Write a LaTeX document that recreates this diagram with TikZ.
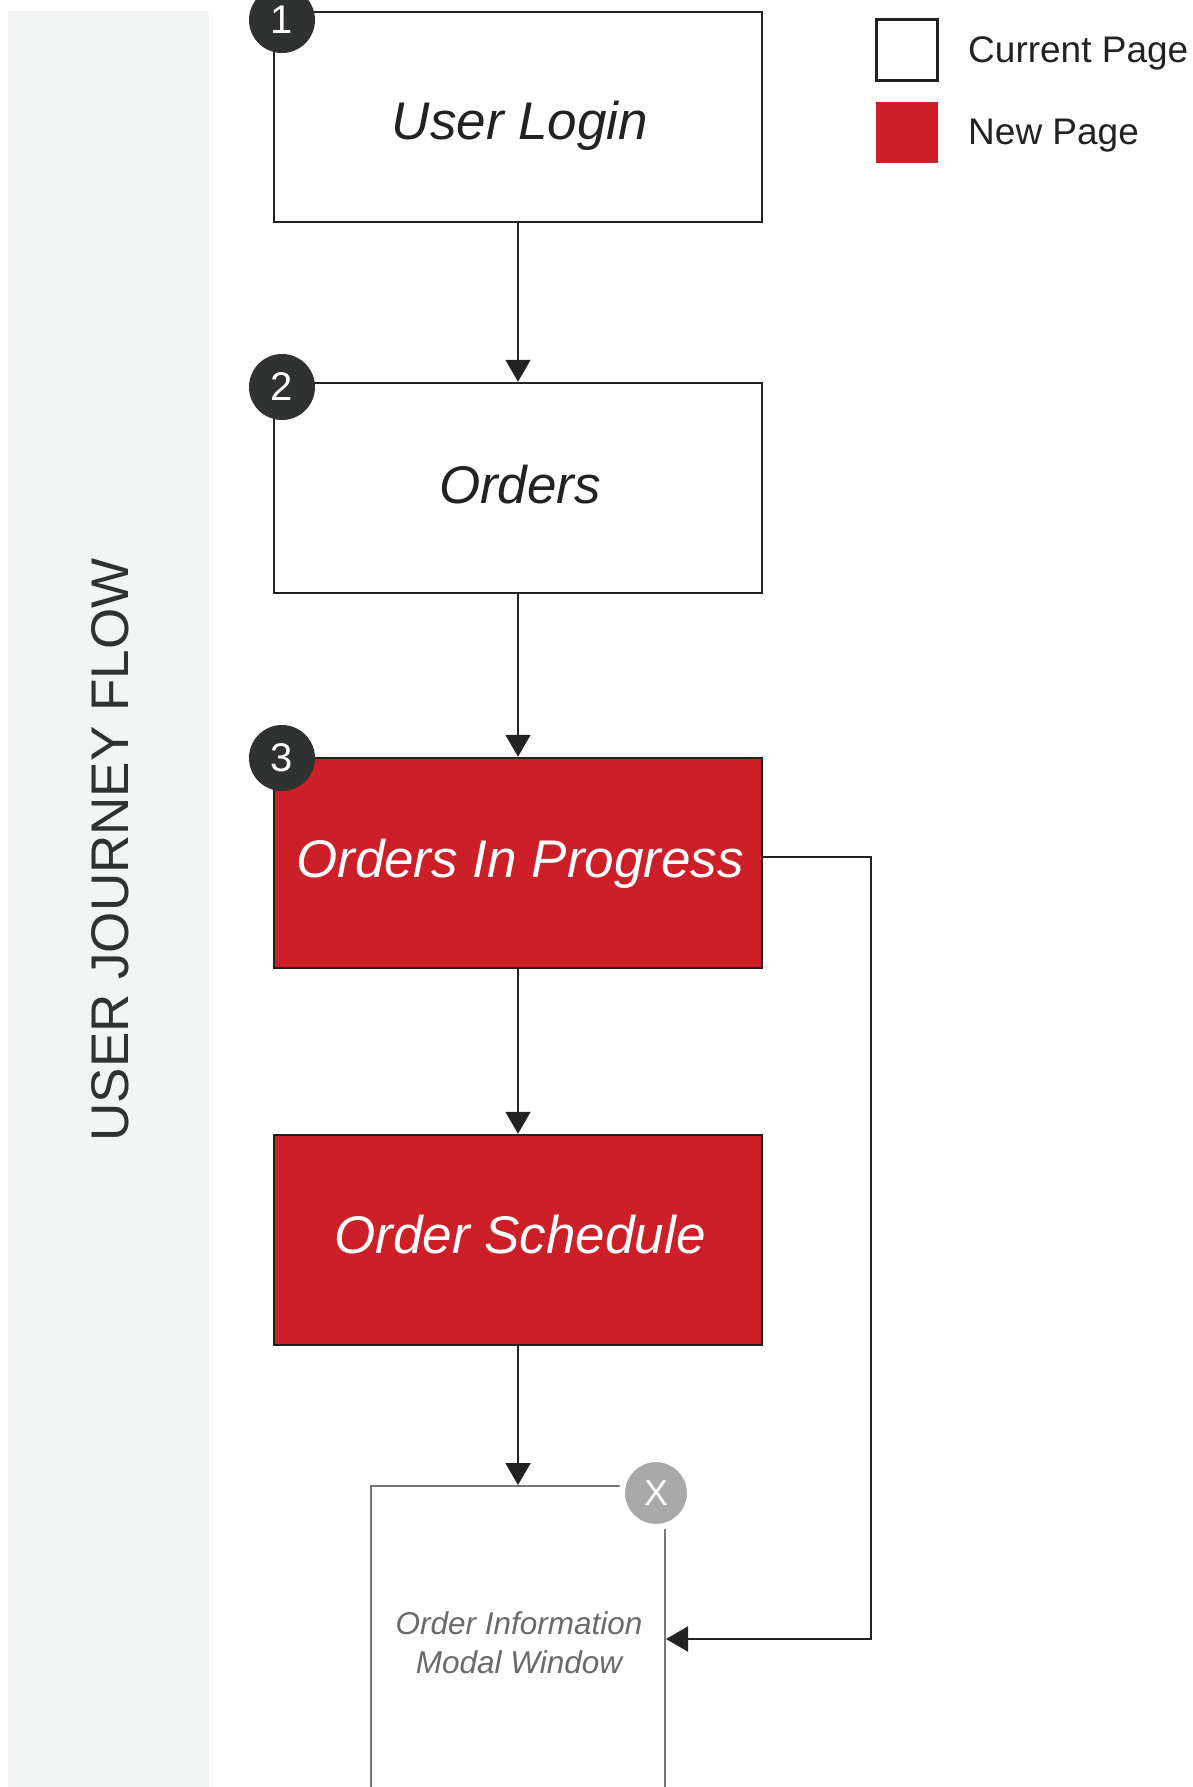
\documentclass[tikz,border=0pt]{standalone}
\usepackage{fontspec}
\setmainfont{Liberation Sans}
\usetikzlibrary{arrows.meta}
\definecolor{jred}{HTML}{CC1F27}
\definecolor{jdark}{HTML}{2F3231}
\definecolor{jband}{HTML}{F3F5F4}
\definecolor{jline}{HTML}{222222}
\definecolor{jgrey}{HTML}{777777}
\definecolor{jtext}{HTML}{6A6A6A}
\definecolor{jxgrey}{HTML}{A9A9A9}
\begin{document}
\begin{tikzpicture}[x=1pt,y=-1pt,
  page/.style={draw=jline, line width=2.5pt, minimum width=488pt, minimum height=210pt, inner sep=0pt},
  cur/.style={page, fill=white},
  newp/.style={page, fill=jred},
  pagetext/.style={anchor=base, inner sep=0pt, font=\fontsize{53}{60}\selectfont\itshape},
  num/.style={circle, fill=jdark, text=white, minimum size=66pt, inner sep=0pt, font=\fontsize{40}{40}\selectfont},
  flow/.style={draw=jline, line width=2pt, -{Triangle[width=25pt,length=22pt]}},
  legtext/.style={anchor=base west, inner sep=0pt, text=jline, font=\fontsize{37}{37}\selectfont},
]
\useasboundingbox (0,0) rectangle (1192,1787);
\clip (0,0) rectangle (1192,1787);
\fill[jband] (8,11) rectangle (209,1787);
\node[rotate=90, text=jdark, font=\fontsize{53}{53}\selectfont] (title) at (110,850) {USER JOURNEY FLOW};

% legend
\node[draw=jline, line width=2.5pt, fill=white, minimum size=61pt, inner sep=0pt] (lcur) at (907,50) {};
\node[fill=jred, minimum width=62pt, minimum height=61pt, inner sep=0pt] (lnew) at (907,132.5) {};
\node[legtext] (tcur) at (968,63) {Current Page};
\node[legtext] (tnew) at (968,145) {New Page};

% pages
\node[cur] (b1) at (518,117) {};
\node[pagetext, text=jline] (t1) at (520,140) {User Login};
\node[cur] (b2) at (518,488) {};
\node[pagetext, text=jline] (t2) at (520,503) {Orders};
\node[newp] (b3) at (518,863) {};
\node[pagetext, text=white] (t3) at (520,877) {Orders In Progress};
\node[newp] (b4) at (518,1240) {};
\node[pagetext, text=white] (t4) at (520,1253) {Order Schedule};

% modal
\node[draw=jgrey, line width=2pt, fill=white, minimum width=294pt, minimum height=306pt, inner sep=0pt, anchor=north] (modal) at (518,1485) {};
\node[align=center, anchor=base, inner sep=0pt, text=jtext, font=\fontsize{31.5}{39}\selectfont\itshape] (mtext) at (519,1673) {Order Information\\Modal Window};

% connectors
\draw[flow] (b1) -- (b2);
\draw[flow] (b2) -- (b3);
\draw[flow] (b3) -- (b4);
\draw[flow] (b4) -- (modal);
\draw[flow] ([yshift=6pt]b3.east) -- ++(108,0) |- (modal.east);

% markers
\node[num] (n1) at (282,20) {1};
\node[num] (n2) at (282,387) {2};
\node[num] (n3) at (282,758) {3};
\node[circle, fill=jxgrey, draw=white, line width=6pt, minimum size=68pt, inner sep=0pt, text=white, font=\fontsize{36}{36}\selectfont] (xbtn) at (656,1493) {X};
\end{tikzpicture}
\end{document}
